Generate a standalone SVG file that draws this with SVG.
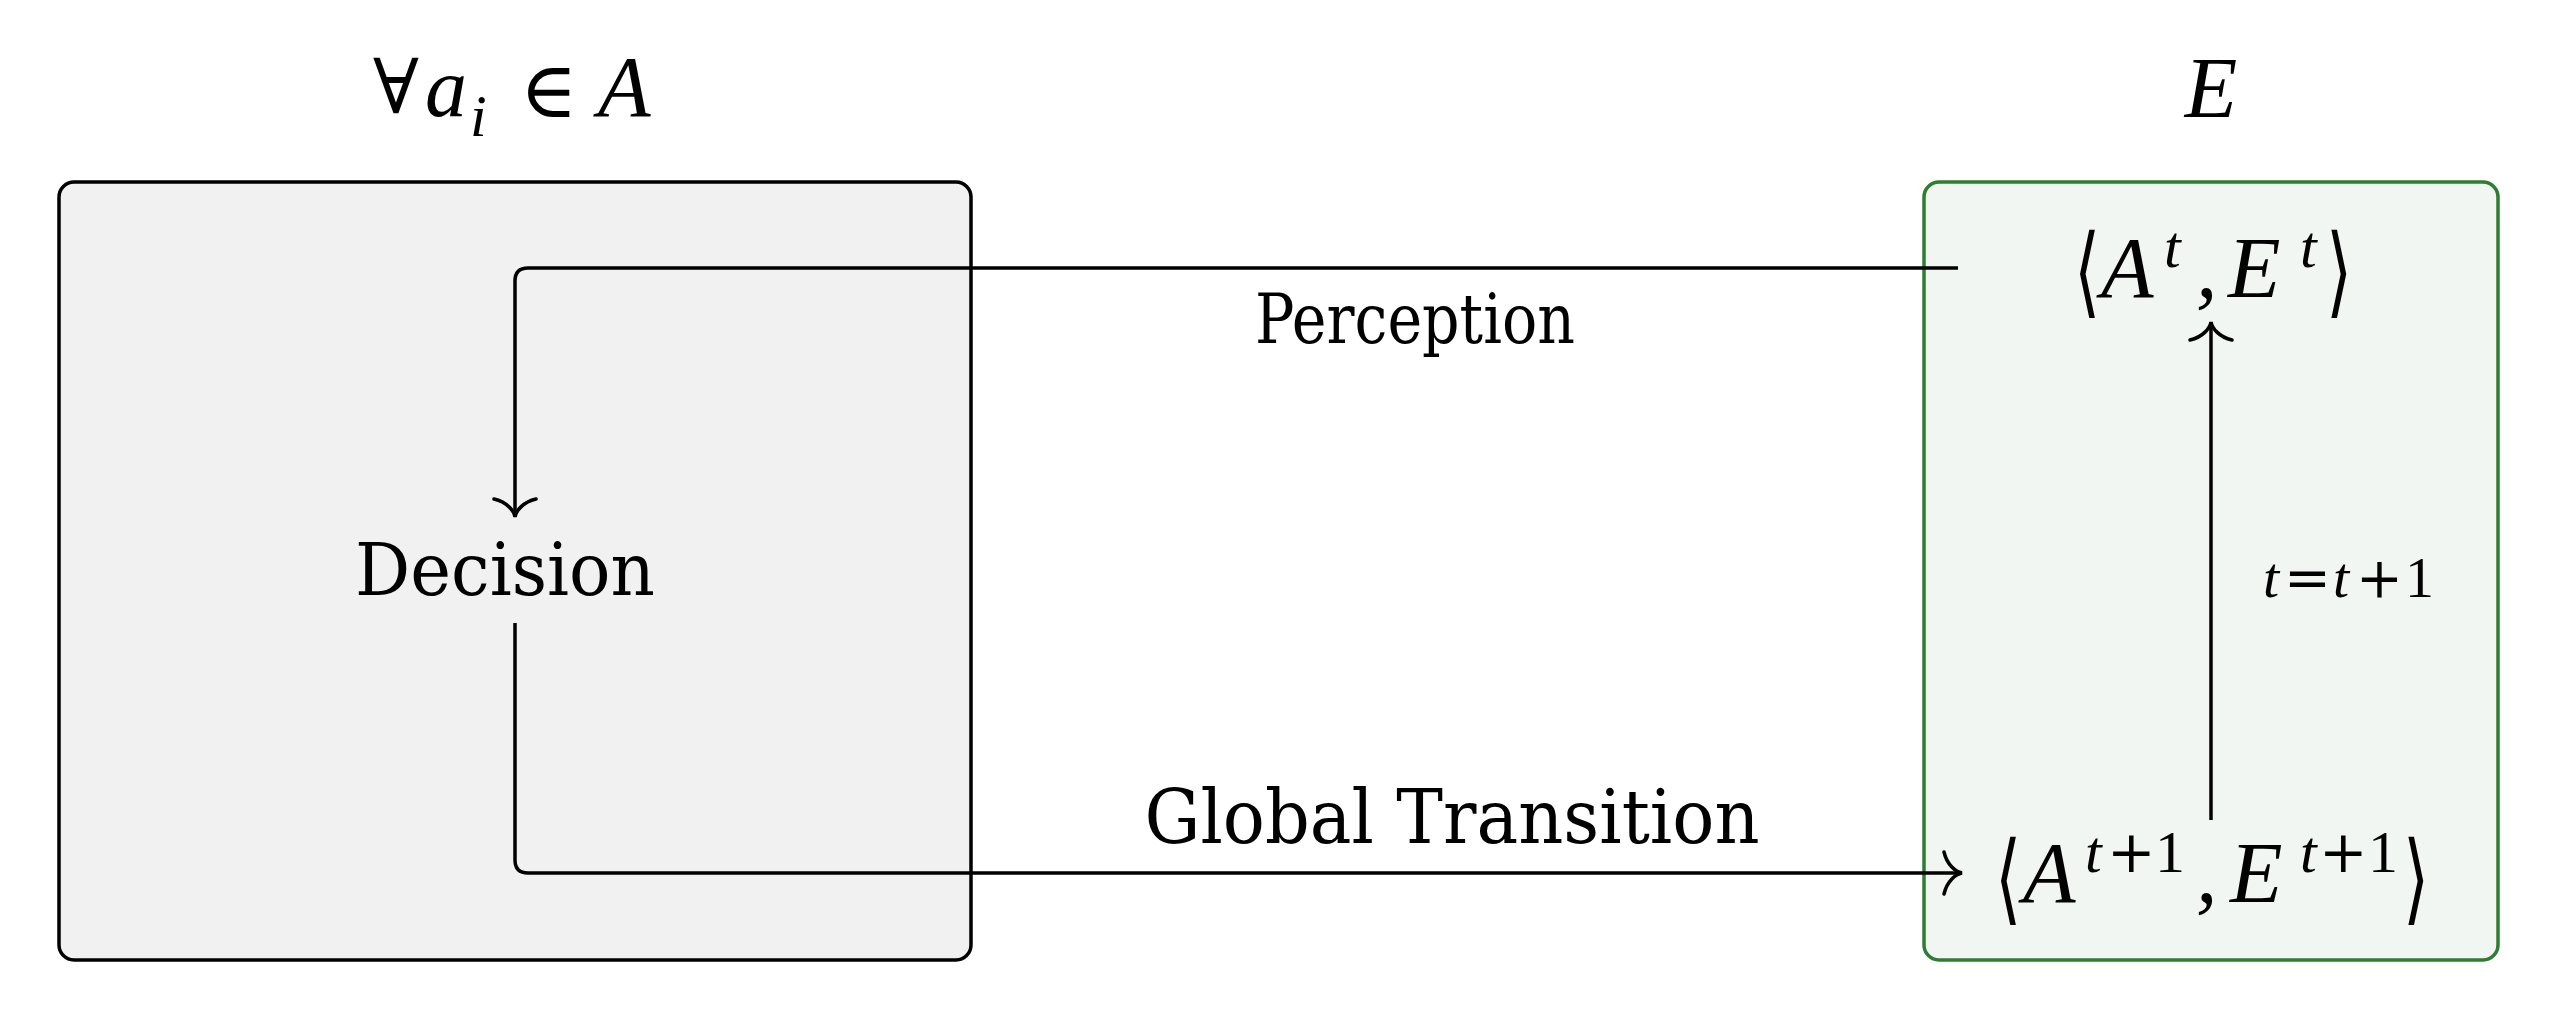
<svg xmlns="http://www.w3.org/2000/svg" width="2557" height="1019" viewBox="0 0 2557 1019">
<style>
.lbl{font-family:"DejaVu Serif","Liberation Serif",serif;fill:#000}
.m{font-family:"Liberation Serif","DejaVu Serif",serif;font-style:italic;fill:#000}
.u{font-family:"Liberation Serif","DejaVu Serif",serif;font-style:normal;fill:#000}
.sym{font-family:"DejaVu Serif","DejaVu Sans",serif;font-style:normal;fill:#000}
.br{font-family:"DejaVu Sans","Noto Sans",sans-serif;font-style:normal;fill:#000;font-size:99px}
.conn{fill:none;stroke:#000;stroke-width:3.5;stroke-linejoin:round}
</style>
<defs>
<marker id="to" markerUnits="userSpaceOnUse" orient="auto" refX="6" refY="0" markerWidth="40" markerHeight="50" viewBox="-20 -25 40 50" overflow="visible">
<path d="M -12,-21 C -9,-7.9 0,-1 6,0 C 0,1 -9,7.9 -12,21" fill="none" stroke="#000" stroke-width="3.5" stroke-linecap="round"/>
</marker>
</defs>
<rect width="2557" height="1019" fill="#fff"/>
<g id="agents">
<rect x="59" y="182" width="912" height="778" rx="15" ry="15" fill="#f1f1f1" stroke="#000" stroke-width="3.5"/>
<text id="agents-title" y="113">
<tspan class="sym" x="373" font-size="76">∀</tspan><tspan class="m" x="425" y="116" font-size="84">a</tspan><tspan class="m" x="470" y="136" font-size="60">i</tspan><tspan class="sym" x="520" y="117" font-size="78">∈</tspan><tspan class="m" x="598" y="116" font-size="86">A</tspan>
</text>
</g>
<g id="environment">
<rect x="1924" y="182" width="574" height="778" rx="15" ry="15" fill="#f1f6f2" stroke="#2e7d32" stroke-width="3.5"/>
<text class="m" x="2211" y="117" font-size="86" text-anchor="middle">E</text>
</g>
<g id="decision">
<text class="lbl" x="505" y="595" font-size="72" text-anchor="middle" textLength="300" lengthAdjust="spacingAndGlyphs">Decision</text>
</g>
<g id="state-t">
<text class="br" transform="translate(2074,305) scale(0.68,1)">⟨</text>
<text y="297"><tspan class="m" x="2101" font-size="86">A</tspan><tspan class="m" x="2164" y="267" font-size="60">t</tspan><tspan class="m" x="2196" y="297" font-size="86">,</tspan><tspan class="m" x="2228" font-size="86">E</tspan><tspan class="m" x="2300" y="267" font-size="60">t</tspan></text>
<text class="br" transform="translate(2326,305) scale(0.68,1)">⟩</text>
</g>
<g id="state-t1">
<text class="br" transform="translate(1995,912) scale(0.68,1)">⟨</text>
<text y="902"><tspan class="m" x="2023" font-size="86">A</tspan><tspan class="m" x="2085" y="872" font-size="60">t</tspan><tspan class="sym" x="2107" font-size="58">+</tspan><tspan class="u" x="2155" font-size="60">1</tspan><tspan class="m" x="2196" y="902" font-size="86">,</tspan><tspan class="m" x="2230" font-size="86">E</tspan><tspan class="m" x="2300" y="872" font-size="60">t</tspan><tspan class="sym" x="2319" font-size="58">+</tspan><tspan class="u" x="2368" font-size="60">1</tspan></text>
<text class="br" transform="translate(2403,912) scale(0.68,1)">⟩</text>
</g>
<g id="connectors">
<path class="conn" d="M 1958,268 H 528 Q 515,268 515,281 V 517" marker-end="url(#to)"/>
<path class="conn" d="M 515,623 V 860 Q 515,873 528,873 H 1962" marker-end="url(#to)"/>
<path class="conn" d="M 2211,820 V 322" marker-end="url(#to)"/>
<text class="lbl" x="1415" y="343" font-size="69" text-anchor="middle" textLength="320" lengthAdjust="spacingAndGlyphs">Perception</text>
<text class="lbl" x="1452" y="843" font-size="75" text-anchor="middle" textLength="615" lengthAdjust="spacingAndGlyphs">Global Transition</text>
<text y="597"><tspan class="m" x="2263" font-size="58">t</tspan><tspan class="sym" x="2284" font-size="56">=</tspan><tspan class="m" x="2333" font-size="58">t</tspan><tspan class="sym" x="2356" font-size="56">+</tspan><tspan class="u" x="2405" font-size="58">1</tspan></text>
</g>
</svg>
